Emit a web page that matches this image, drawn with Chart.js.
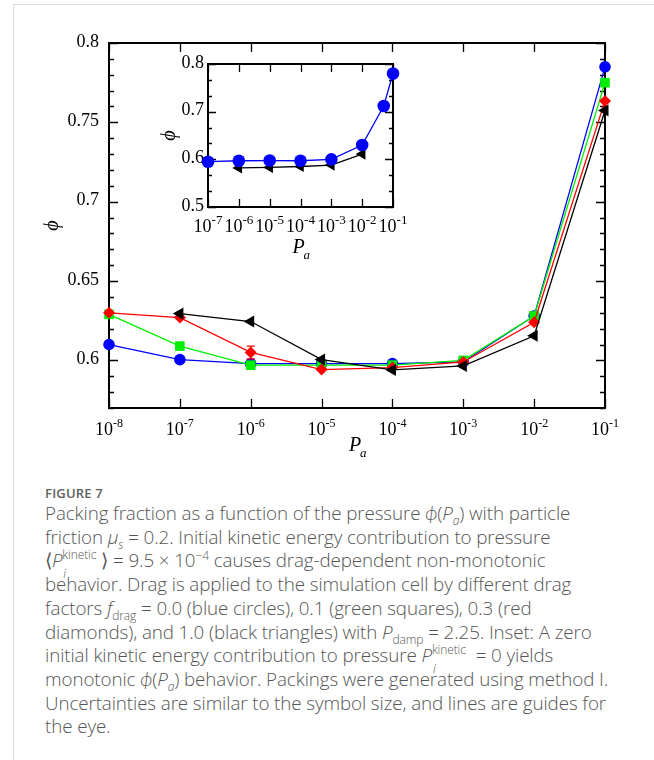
<!DOCTYPE html>
<html>
<head>
<meta charset="utf-8">
<script src="https://cdn.jsdelivr.net/npm/chart.js@4.4.1/dist/chart.umd.min.js"></script>
<style>
  html, body { margin: 0; padding: 0; background: #fff; }
  body { width: 654px; height: 760px; position: relative; overflow: hidden; }
  .card { position: absolute; left: 13px; top: 4px; right: -2px; bottom: -2px; border-top: 1px solid #dcdcdc; border-left: 1px solid #dcdcdc; }
  #main { position: absolute; left: 0; top: 0; }
  #inset { position: absolute; left: 150px; top: 52px; }
  .caption { position: absolute; left: 45px; top: 484px; width: 605px; font-family: "Open Sans", Lato, sans-serif; color: #555; }
  .fig { font-size: 13px; font-weight: 600; letter-spacing: 0.2px; color: #606060; line-height: 18px; }
  .txt { font-size: 18.8px; font-weight: 300; line-height: 23.7px; white-space: nowrap; letter-spacing: -0.1px; }
  .txt sub, .txt sup { font-size: 12px; line-height: 0; }
  .ss { display: inline-block; position: relative; width: 39px; height: 10px; }
  .ss .up { position: absolute; left: 0; top: -14px; font-size: 12px; }
  .ss .dn { position: absolute; left: 1px; top: 5px; font-size: 12px; font-style: italic; }
</style>
</head>
<body>
<div class="card"></div>
<canvas id="main" width="654" height="470"></canvas>
<canvas id="inset" width="275" height="215"></canvas>
<div class="caption">
  <div class="fig">FIGURE 7</div>
  <div class="txt">
    Packing fraction as a function of the pressure <i>ϕ</i>(<i>P</i><sub><i>a</i></sub>) with particle<br>
    friction <i>μ</i><sub><i>s</i></sub> = 0.2. Initial kinetic energy contribution to pressure<br>
    ⟨<i>P</i><span class="ss"><span class="up">kinetic</span><span class="dn">i</span></span>⟩ = 9.5 × 10<sup>−4</sup> causes drag-dependent non-monotonic<br>
    behavior. Drag is applied to the simulation cell by different drag<br>
    factors <i>f</i><sub>drag</sub> = 0.0 (blue circles), 0.1 (green squares), 0.3 (red<br>
    diamonds), and 1.0 (black triangles) with <i>P</i><sub>damp</sub> = 2.25. Inset: A zero<br>
    initial kinetic energy contribution to pressure <i>P</i><span class="ss"><span class="up">kinetic</span><span class="dn">i</span></span> = 0 yields<br>
    monotonic <i>ϕ</i>(<i>P</i><sub><i>a</i></sub>) behavior. Packings were generated using method I.<br>
    Uncertainties are similar to the symbol size, and lines are guides for<br>
    the eye.
  </div>
</div>
<script>
// main panel: packing fraction vs pressure for four drag factors
const pressures = [1e-8, 1e-7, 1e-6, 1e-5, 1e-4, 1e-3, 1e-2, 1e-1];
const phiDrag00 = [0.610, 0.6005, 0.598, 0.598, 0.598, 0.599, 0.628, 0.785];
const phiDrag01 = [0.629, 0.609, 0.597, 0.597, 0.597, 0.600, 0.628, 0.775];
const phiDrag03 = [0.630, 0.627, 0.605, 0.5942, 0.5955, 0.599, 0.624, 0.7635];
const phiDrag10 = [null, 0.6295, 0.6245, 0.6005, 0.594, 0.5965, 0.6155, 0.7575];
const errDrag03 = [0, 0, 0.004, 0, 0, 0, 0, 0];

// inset: zero initial kinetic energy
const insetPressures = [1e-7, 1e-6, 1e-5, 1e-4, 1e-3, 1e-2, 5e-2, 1e-1];
const insetDrag00 = [0.595, 0.597, 0.5975, 0.597, 0.600, 0.630, 0.712, 0.780];
const insetDrag10 = [null, 0.582, 0.583, 0.585, 0.588, 0.611, null, null];

const mainYTicks = [0.6, 0.65, 0.7, 0.75, 0.8];
const insetYTicks = [0.5, 0.6, 0.7, 0.8];

const SERIF = '"Liberation Serif", "DejaVu Serif", serif';

function toPoints(xs, ys) {
  return xs.map((x, i) => ({ x: x, y: ys[i] })).filter(p => p.y !== null);
}

// box frame with inward ticks and xmgrace style labels
function makeFrame(o) {
  return {
    id: 'axesFrame',
    beforeDraw(chart) {
      const { ctx, chartArea: a } = chart;
      ctx.save();
      ctx.fillStyle = '#fff';
      ctx.fillRect(a.left, a.top, a.width, a.height);
      ctx.restore();
    },
    beforeDatasetsDraw(chart) {
      const { ctx, chartArea: a, scales: { x, y } } = chart;
      ctx.save();
      ctx.strokeStyle = '#000';
      ctx.lineWidth = 1.3;
      ctx.beginPath();
      // y ticks, left and right
      const n = Math.round((y.max - y.min) / o.yMinor);
      for (let i = 0; i <= n; i++) {
        const v = y.min + i * o.yMinor;
        const major = o.yTicks.some(t => Math.abs(t - v) < 1e-6);
        const len = major ? o.majorLen : o.minorLen;
        const py = Math.round(y.getPixelForValue(v)) + 0.5;
        ctx.moveTo(a.left, py); ctx.lineTo(a.left + len, py);
        ctx.moveTo(a.right, py); ctx.lineTo(a.right - len, py);
      }
      // x ticks at every decade, top and bottom
      const e0 = Math.round(Math.log10(x.min)), e1 = Math.round(Math.log10(x.max));
      for (let e = e0; e <= e1; e++) {
        const px = Math.round(x.getPixelForValue(Math.pow(10, e))) + 0.5;
        ctx.moveTo(px, a.bottom); ctx.lineTo(px, a.bottom - o.majorLen);
        ctx.moveTo(px, a.top); ctx.lineTo(px, a.top + o.majorLen);
      }
      ctx.stroke();
      ctx.lineWidth = 2;
      ctx.strokeRect(a.left, a.top, a.width, a.height);

      // tick labels
      const baseFont = o.labelPx + 'px ' + SERIF;
      const supFont = o.expPx + 'px ' + SERIF;
      ctx.fillStyle = '#000';
      ctx.font = baseFont;
      ctx.textAlign = 'right';
      ctx.textBaseline = 'middle';
      o.yTicks.forEach(t => {
        ctx.fillText(String(t), a.left - o.yLabelGap, y.getPixelForValue(t) - 1);
      });
      ctx.textBaseline = 'alphabetic';
      ctx.textAlign = 'left';
      for (let e = e0; e <= e1; e++) {
        const px = x.getPixelForValue(Math.pow(10, e));
        const exp = '-' + Math.abs(e);
        ctx.font = baseFont;
        const w1 = ctx.measureText('10').width;
        ctx.font = supFont;
        const w2 = ctx.measureText(exp).width;
        const left = px - (w1 + w2) / 2;
        const base = a.bottom + o.xLabelDy;
        ctx.font = baseFont;
        ctx.fillText('10', left, base);
        ctx.font = supFont;
        ctx.fillText(exp, left + w1, base - o.expRise);
      }

      // axis titles
      const cx = (a.left + a.right) / 2;
      ctx.font = 'italic ' + o.titlePx + 'px ' + SERIF;
      const pw = ctx.measureText('P').width;
      ctx.fillText('P', cx - pw / 2 - 2, a.bottom + o.xTitleDy);
      ctx.font = 'italic ' + o.subPx + 'px ' + SERIF;
      ctx.fillText('a', cx + pw / 2 - 3, a.bottom + o.xTitleDy + 6);

      ctx.translate(a.left - o.yTitleDx, (a.top + a.bottom) / 2);
      ctx.rotate(-Math.PI / 2);
      ctx.textAlign = 'center';
      ctx.textBaseline = 'middle';
      ctx.font = 'italic ' + o.titlePx + 'px ' + SERIF;
      ctx.fillText('ϕ', 0, 0);
      ctx.restore();
    }
  };
}

// vertical error bars where the spread is larger than the symbol
const errorBars = {
  id: 'errorBars',
  afterDatasetsDraw(chart) {
    const { ctx, scales: { x, y } } = chart;
    chart.data.datasets.forEach(ds => {
      if (!ds.errors) return;
      ctx.save();
      ctx.strokeStyle = ds.borderColor;
      ctx.lineWidth = 1.3;
      ds.data.forEach((p, i) => {
        const err = ds.errors[i];
        if (!err) return;
        const px = x.getPixelForValue(p.x);
        const y0 = y.getPixelForValue(p.y - err), y1 = y.getPixelForValue(p.y + err);
        ctx.beginPath();
        ctx.moveTo(px, y0); ctx.lineTo(px, y1);
        ctx.moveTo(px - 4, y0); ctx.lineTo(px + 4, y0);
        ctx.moveTo(px - 4, y1); ctx.lineTo(px + 4, y1);
        ctx.stroke();
      });
      ctx.restore();
    });
  }
};

function series(xs, ys, color, style, radius, order, extra) {
  return Object.assign({
    data: toPoints(xs, ys),
    borderColor: color,
    backgroundColor: color,
    borderWidth: 1.3,
    pointStyle: style,
    pointRadius: radius,
    pointBorderWidth: 0,
    pointBackgroundColor: color,
    tension: 0,
    clip: false,
    order: order
  }, extra || {});
}

new Chart(document.getElementById('main'), {
  type: 'line',
  data: {
    datasets: [
      series(pressures, phiDrag00, '#0000ff', 'circle', 5.8, 3),
      series(pressures, phiDrag01, '#00ee00', 'rect', 6.8, 2),
      series(pressures, phiDrag03, '#ff0000', 'rectRot', 6, 1, { errors: errDrag03 }),
      series(pressures, phiDrag10, '#000000', 'triangle', 7, 0, { pointRotation: -90 })
    ]
  },
  options: {
    responsive: false,
    animation: false,
    layout: { padding: { left: 109, top: 43, right: 49, bottom: 62 } },
    plugins: { legend: { display: false }, tooltip: { enabled: false } },
    scales: {
      x: { type: 'logarithmic', min: 1e-8, max: 1e-1, display: false },
      y: { type: 'linear', min: 0.57, max: 0.8, display: false }
    }
  },
  plugins: [makeFrame({
    yTicks: mainYTicks, yMinor: 0.01, majorLen: 9, minorLen: 5,
    labelPx: 18, expPx: 12, expRise: 8, yLabelGap: 10, xLabelDy: 27,
    titlePx: 20, subPx: 13, xTitleDy: 43, yTitleDx: 56
  }), errorBars]
});

new Chart(document.getElementById('inset'), {
  type: 'line',
  data: {
    datasets: [
      series(insetPressures, insetDrag00, '#0000ff', 'circle', 6.3, 0),
      series(insetPressures, insetDrag10, '#000000', 'triangle', 6.5, 1, { pointRotation: -90 })
    ]
  },
  options: {
    responsive: false,
    animation: false,
    layout: { padding: { left: 58, top: 12, right: 32, bottom: 60 } },
    plugins: { legend: { display: false }, tooltip: { enabled: false } },
    scales: {
      x: { type: 'logarithmic', min: 1e-7, max: 1e-1, display: false },
      y: { type: 'linear', min: 0.5, max: 0.8, display: false }
    }
  },
  plugins: [makeFrame({
    yTicks: insetYTicks, yMinor: 0.1 / 3, majorLen: 8, minorLen: 4,
    labelPx: 18, expPx: 13, expRise: 8, yLabelGap: 4, xLabelDy: 25,
    titlePx: 20, subPx: 13, xTitleDy: 46, yTitleDx: 38
  })]
});
</script>
</body>
</html>
